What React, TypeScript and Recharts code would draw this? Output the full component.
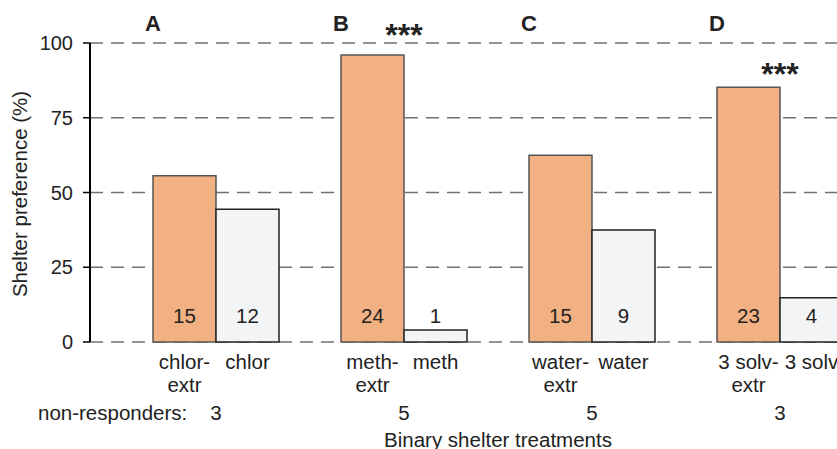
import React from 'react';
import { BarChart, Bar, XAxis, YAxis, CartesianGrid, LabelList } from 'recharts';

const panels = ['A', 'B', 'C', 'D'];
const extrLabels = ['chlor-', 'meth-', 'water-', '3 solv-'];
const ctrlLabels = ['chlor', 'meth', 'water', '3 solv'];
const extrPct = [55.6, 96, 62.5, 85.2];
const ctrlPct = [44.4, 4, 37.5, 14.8];
const extrCounts = [15, 24, 15, 23];
const ctrlCounts = [12, 1, 9, 4];
const nonResponders = [3, 5, 5, 3];
const significance = ['', '***', '', '***'];
const yTicks = [0, 25, 50, 75, 100];

const data = panels.map((p, i) => ({
  panel: p,
  extr: extrPct[i],
  ctrl: ctrlPct[i],
  extrN: extrCounts[i],
  ctrlN: ctrlCounts[i],
  sig: significance[i],
}));

const font = '"Liberation Sans", Arial, sans-serif';
const textColor = '#222';
const AXIS_Y = 342;

function GroupTick(props: any) {
  const { x, payload } = props;
  const i = payload.index;
  return (
    <g fontFamily={font} fontSize={20.5} fill={textColor}>
      <text x={x - 31.5} y={369} textAnchor="middle">{extrLabels[i]}</text>
      <text x={x - 31.5} y={392} textAnchor="middle">extr</text>
      <text x={x + 31.5} y={369} textAnchor="middle">{ctrlLabels[i]}</text>
      <text x={x} y={420} textAnchor="middle">{nonResponders[i]}</text>
      {i === 0 && (
        <>
          <text x={38} y={420}>non-responders:</text>
          <text x={498} y={447} textAnchor="middle">Binary shelter treatments</text>
        </>
      )}
    </g>
  );
}

function CountLabel(props: any) {
  const { x, width, value } = props;
  return (
    <text x={x + width / 2} y={AXIS_Y - 19} textAnchor="middle" fontFamily={font} fontSize={20.5} fill={textColor}>
      {value}
    </text>
  );
}

function PanelLabel(props: any) {
  const { x, value } = props;
  return (
    <text x={x} y={31} textAnchor="middle" fontFamily={font} fontSize={22} fontWeight="bold" fill={textColor}>
      {value}
    </text>
  );
}

function SigLabel(props: any) {
  const { x, y, width, value } = props;
  if (!value) return null;
  // stars sit above the bar, pushed above the 100 line when the bar is too tall
  const bottom = y - 10 < 48 ? 38 : y - 10;
  return (
    <text x={x + width} y={bottom + 8} textAnchor="middle" fontFamily={font} fontSize={32} fontWeight="bold" fill={textColor}>
      {value}
    </text>
  );
}

export default function App() {
  return (
    <div style={{ position: 'absolute', left: 0, top: 0, width: 837, height: 449, overflow: 'hidden', background: '#fff' }}>
      <BarChart
        width={874}
        height={449}
        data={data}
        margin={{ top: 43, right: 0, left: 30, bottom: 7 }}
        barSize={63}
        barGap={0}
      >
        <CartesianGrid vertical={false} stroke="#707070" strokeWidth={1.6} strokeDasharray="13 8" />
        <XAxis
          dataKey="panel"
          height={100}
          axisLine={false}
          tickLine={false}
          padding={{ left: 32, right: 0 }}
          tick={<GroupTick />}
          interval={0}
        />
        <YAxis
          width={60}
          domain={[0, 100]}
          ticks={yTicks}
          interval={0}
          axisLine={{ stroke: '#000', strokeWidth: 2 }}
          tickLine={{ stroke: '#000', strokeWidth: 1.5 }}
          tickSize={7}
          tickMargin={10}
          tick={{ fontFamily: font, fontSize: 20, fill: textColor }}
          label={{
            content: () => (
              <text
                x={27}
                y={194}
                transform="rotate(-90 27 194)"
                textAnchor="middle"
                fontFamily={font}
                fontSize={20.5}
                fill={textColor}
              >
                Shelter preference (%)
              </text>
            ),
          }}
        />
        <Bar dataKey="extr" fill="#F2B183" stroke="#555" strokeWidth={1.5} isAnimationActive={false}>
          <LabelList dataKey="extrN" content={<CountLabel />} />
          <LabelList dataKey="panel" content={<PanelLabel />} />
          <LabelList dataKey="sig" content={<SigLabel />} />
        </Bar>
        <Bar dataKey="ctrl" fill="#F3F4F6" stroke="#222" strokeWidth={1.5} isAnimationActive={false}>
          <LabelList dataKey="ctrlN" content={<CountLabel />} />
        </Bar>
      </BarChart>
    </div>
  );
}
